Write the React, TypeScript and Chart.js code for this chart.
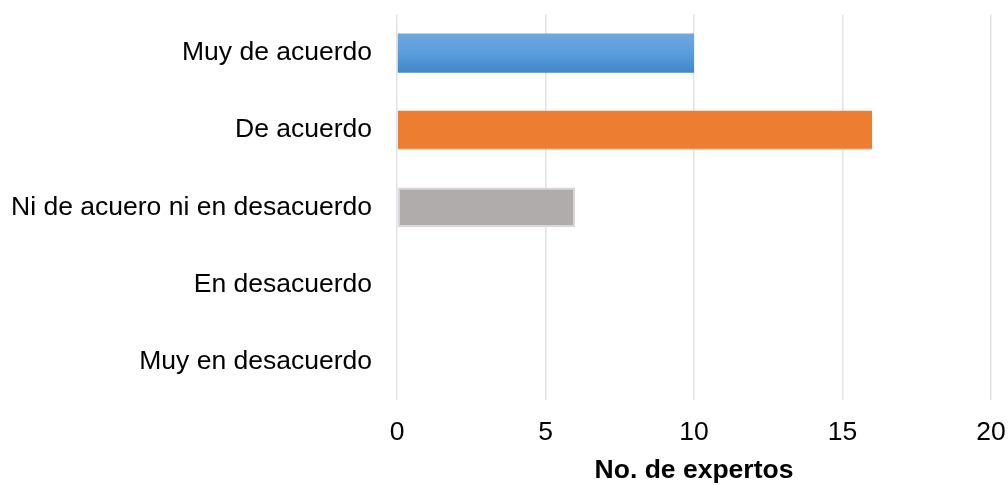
import React, { useEffect, useRef } from "react";
import { Chart, registerables } from "chart.js";

Chart.register(...registerables);

const categories = [
  "Muy de acuerdo",
  "De acuerdo",
  "Ni de acuero ni en desacuerdo",
  "En desacuerdo",
  "Muy en desacuerdo",
];
const values = [10, 16, 6, 0, 0];
const xMin = 0;
const xMax = 20;
const xStep = 5;
const xTitle = "No. de expertos";

const fillColors = ["#5b9bd5", "#ed7d31", "#b0acab", "#ffc000", "#4472c4"];
const edgeColors = ["#5b9bd5", "#f4b183", "#d9d7d7", "#ffc000", "#4472c4"];

const FONT = "'Liberation Sans', Arial, sans-serif";

const gradientPlugin = {
  id: "barGradient",
  beforeDatasetsDraw(chart: any) {
    const meta = chart.getDatasetMeta(0);
    const ctx = chart.ctx;
    const el = meta.data[0];
    if (!el) return;
    const top = el.y - el.height / 2;
    const bottom = el.y + el.height / 2;
    const g = ctx.createLinearGradient(0, top, 0, bottom);
    g.addColorStop(0, "#70a8dd");
    g.addColorStop(0.5, "#5a9ddd");
    g.addColorStop(1, "#3f87c7");
    el.options.backgroundColor = g;
    el.options.borderColor = g;
  },
};

export default function App() {
  const ref = useRef<HTMLCanvasElement>(null);
  useEffect(() => {
    if (!ref.current) return;
    const chart = new Chart(ref.current, {
      type: "bar",
      data: {
        labels: categories,
        datasets: [
          {
            data: values,
            backgroundColor: fillColors,
            borderColor: edgeColors,
            borderWidth: [0, { bottom: 1 }, 2, 0, 0] as any,
            borderSkipped: false,
            categoryPercentage: 1,
            barPercentage: 0.51,
          },
        ],
      },
      plugins: [gradientPlugin],
      options: {
        indexAxis: "y",
        responsive: false,
        animation: false,
        layout: { padding: { top: 14.5, right: 17, left: 0, bottom: 0 } },
        plugins: {
          legend: { display: false },
          tooltip: { enabled: false },
        },
        scales: {
          x: {
            min: xMin,
            max: xMax,
            ticks: {
              stepSize: xStep,
              color: "#000",
              font: { family: FONT, size: 26.5 },
              padding: 17,
            },
            grid: { color: "#dfe2e8", lineWidth: 1.5, drawTicks: false },
            border: { display: false },
            title: {
              display: true,
              text: xTitle,
              color: "#000",
              font: { family: FONT, size: 26.5, weight: "bold" },
              padding: { top: 0, bottom: -2 },
            },
            afterFit(scale: any) {
              scale.height = 85;
              scale.paddingLeft = 0;
              scale.paddingRight = 0;
              scale.paddingTop = 0;
              scale.paddingBottom = 0;
            },
          },
          y: {
            grid: { display: false, drawTicks: false },
            border: { display: false },
            ticks: {
              color: "#000",
              font: { family: FONT, size: 26.5 },
              padding: 25,
            },
            afterFit(scale: any) {
              scale.width = 397;
              scale.paddingLeft = 0;
              scale.paddingRight = 0;
              scale.paddingTop = 0;
              scale.paddingBottom = 0;
            },
          },
        },
      },
    });
    return () => chart.destroy();
  }, []);
  return (
    <div style={{ position: "fixed", left: 0, top: 0, width: 1008, height: 485, background: "#fff" }}>
      <canvas ref={ref} width={1008} height={485} style={{ display: "block" }} />
    </div>
  );
}
